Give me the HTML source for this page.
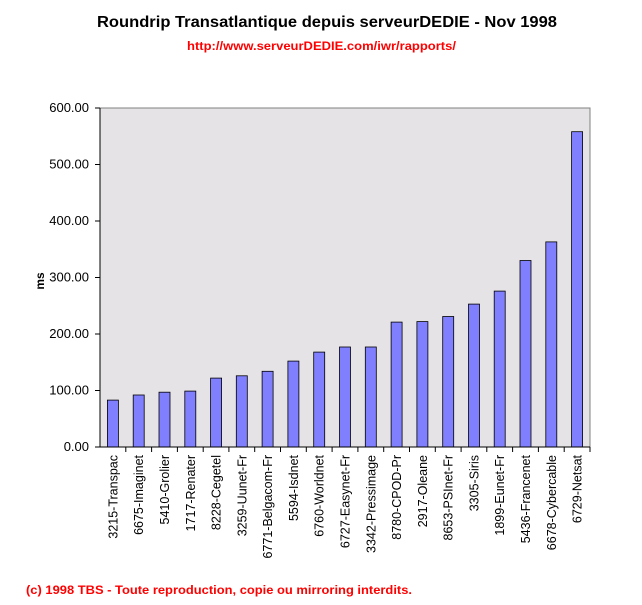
<!DOCTYPE html>
<html><head><style>
body{margin:0;background:#fff;width:642px;height:600px;overflow:hidden}
</style></head><body>
<svg width="642" height="600" xmlns="http://www.w3.org/2000/svg" font-family="Liberation Sans, Arial, sans-serif">
<text x="97" y="27" font-size="16" font-weight="bold" textLength="460" lengthAdjust="spacingAndGlyphs">Roundrip Transatlantique depuis serveurDEDIE - Nov 1998</text>
<text x="187" y="50" font-size="11.5" font-weight="bold" fill="#ff0000" textLength="269" lengthAdjust="spacingAndGlyphs">http://www.serveurDEDIE.com/iwr/rapports/</text>
<rect x="100" y="108" width="490" height="339" fill="#e6e3e6" stroke="#808080"/>
<g fill="#8080ff" stroke="#000" stroke-width="0.8">
<rect x="107.4" y="400.1" width="11" height="46.9"/>
<rect x="133.2" y="395.0" width="11" height="52.0"/>
<rect x="159.0" y="392.2" width="11" height="54.8"/>
<rect x="184.8" y="391.1" width="11" height="55.9"/>
<rect x="210.6" y="378.1" width="11" height="68.9"/>
<rect x="236.3" y="375.8" width="11" height="71.2"/>
<rect x="262.1" y="371.3" width="11" height="75.7"/>
<rect x="287.9" y="361.1" width="11" height="85.9"/>
<rect x="313.7" y="352.1" width="11" height="94.9"/>
<rect x="339.5" y="347.0" width="11" height="100.0"/>
<rect x="365.3" y="347.0" width="11" height="100.0"/>
<rect x="391.1" y="322.1" width="11" height="124.9"/>
<rect x="416.9" y="321.6" width="11" height="125.4"/>
<rect x="442.7" y="316.5" width="11" height="130.5"/>
<rect x="468.5" y="304.1" width="11" height="142.9"/>
<rect x="494.2" y="291.1" width="11" height="155.9"/>
<rect x="520.0" y="260.5" width="11" height="186.5"/>
<rect x="545.8" y="241.9" width="11" height="205.1"/>
<rect x="571.6" y="131.7" width="11" height="315.3"/>
</g>
<line x1="100" y1="108" x2="100" y2="447" stroke="#000"/>
<line x1="100" y1="447" x2="590" y2="447" stroke="#000"/>
<g stroke="#000">
<line x1="125.8" y1="447" x2="125.8" y2="452"/><line x1="151.6" y1="447" x2="151.6" y2="452"/>
<line x1="177.4" y1="447" x2="177.4" y2="452"/><line x1="203.2" y1="447" x2="203.2" y2="452"/>
<line x1="228.9" y1="447" x2="228.9" y2="452"/><line x1="254.7" y1="447" x2="254.7" y2="452"/>
<line x1="280.5" y1="447" x2="280.5" y2="452"/><line x1="306.3" y1="447" x2="306.3" y2="452"/>
<line x1="332.1" y1="447" x2="332.1" y2="452"/><line x1="357.9" y1="447" x2="357.9" y2="452"/>
<line x1="383.7" y1="447" x2="383.7" y2="452"/><line x1="409.5" y1="447" x2="409.5" y2="452"/>
<line x1="435.3" y1="447" x2="435.3" y2="452"/><line x1="461.1" y1="447" x2="461.1" y2="452"/>
<line x1="486.8" y1="447" x2="486.8" y2="452"/><line x1="512.6" y1="447" x2="512.6" y2="452"/>
<line x1="538.4" y1="447" x2="538.4" y2="452"/><line x1="564.2" y1="447" x2="564.2" y2="452"/>
<line x1="590" y1="447" x2="590" y2="452"/>
<line x1="95" y1="447" x2="100" y2="447"/><line x1="95" y1="390.5" x2="100" y2="390.5"/>
<line x1="95" y1="334" x2="100" y2="334"/><line x1="95" y1="277.5" x2="100" y2="277.5"/>
<line x1="95" y1="221" x2="100" y2="221"/><line x1="95" y1="164.5" x2="100" y2="164.5"/>
<line x1="95" y1="108" x2="100" y2="108"/>
</g>
<g font-size="13" text-anchor="end">
<text x="89" y="451">0.00</text><text x="89" y="394.5">100.00</text>
<text x="89" y="338">200.00</text><text x="89" y="281.5">300.00</text>
<text x="89" y="225">400.00</text><text x="89" y="168.5">500.00</text>
<text x="89" y="112">600.00</text>
</g>
<g font-size="12.5" text-anchor="end">
<text transform="translate(117.4,455) rotate(-90)">3215-Transpac</text>
<text transform="translate(143.2,455) rotate(-90)">6675-Imaginet</text>
<text transform="translate(169.0,455) rotate(-90)">5410-Grolier</text>
<text transform="translate(194.8,455) rotate(-90)">1717-Renater</text>
<text transform="translate(220.6,455) rotate(-90)">8228-Cegetel</text>
<text transform="translate(246.3,455) rotate(-90)">3259-Uunet-Fr</text>
<text transform="translate(272.1,455) rotate(-90)">6771-Belgacom-Fr</text>
<text transform="translate(297.9,455) rotate(-90)">5594-Isdnet</text>
<text transform="translate(323.7,455) rotate(-90)">6760-Worldnet</text>
<text transform="translate(349.5,455) rotate(-90)">6727-Easynet-Fr</text>
<text transform="translate(375.3,455) rotate(-90)">3342-Pressimage</text>
<text transform="translate(401.1,455) rotate(-90)">8780-CPOD-Pr</text>
<text transform="translate(426.9,455) rotate(-90)">2917-Oleane</text>
<text transform="translate(452.7,455) rotate(-90)">8653-PSInet-Fr</text>
<text transform="translate(478.5,455) rotate(-90)">3305-Siris</text>
<text transform="translate(504.2,455) rotate(-90)">1899-Eunet-Fr</text>
<text transform="translate(530.0,455) rotate(-90)">5436-Francenet</text>
<text transform="translate(555.8,455) rotate(-90)">6678-Cybercable</text>
<text transform="translate(581.6,455) rotate(-90)">6729-Netsat</text>
</g>
<text x="44" y="281" font-size="12" font-weight="bold" transform="rotate(-90 44 281)" text-anchor="middle">ms</text>
<text x="26" y="594" font-size="12" font-weight="bold" fill="#ff0000" textLength="386" lengthAdjust="spacingAndGlyphs">(c) 1998 TBS - Toute reproduction, copie ou mirroring interdits.</text>
</svg>
</body></html>
